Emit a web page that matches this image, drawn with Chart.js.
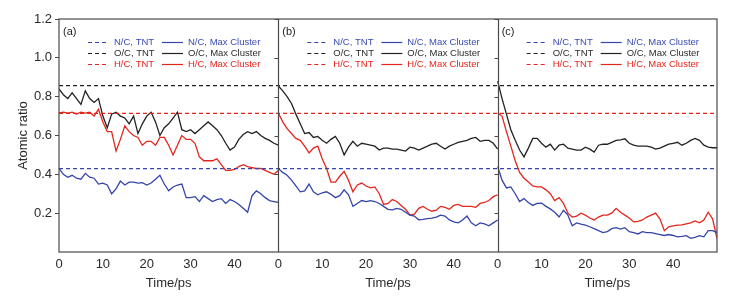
<!DOCTYPE html>
<html>
<head>
<meta charset="utf-8">
<script src="https://cdn.jsdelivr.net/npm/chart.js@4.4.1/dist/chart.umd.min.js"></script>
<style>
	html, body { margin: 0; padding: 0; background: #ffffff; }
	#wrap { position: relative; width: 730px; height: 298px; }
</style>
</head>
<body>
<div id="wrap"><canvas id="ratioChart" width="730" height="298"></canvas></div>
<script>
const timePs = [0, 1, 2, 3, 4, 5, 6, 7, 8, 9, 10, 11, 12, 13, 14, 15, 16, 17, 18, 19, 20, 21, 22, 23, 24, 25, 26, 27, 28, 29, 30, 31, 32, 33, 34, 35, 36, 37, 38, 39, 40, 41, 42, 43, 44, 45, 46, 47, 48, 49, 50];
const panelLabels = ['(a)', '(b)', '(c)'];
const ratioNames = ['N/C', 'O/C', 'H/C'];
const xTicks = [0, 10, 20, 30, 40];
const yTicks = [0.2, 0.4, 0.6, 0.8, 1.0, 1.2];

// TNT reference ratios (dashed lines)
const tntRatios = [0.429, 0.857, 0.714];

// panel (a)
const ncClusterA = [0.43, 0.40, 0.385, 0.395, 0.38, 0.375, 0.405, 0.385, 0.38, 0.35, 0.355, 0.345, 0.30, 0.325, 0.365, 0.345, 0.36, 0.36, 0.355, 0.357, 0.345, 0.355, 0.375, 0.395, 0.35, 0.315, 0.335, 0.345, 0.35, 0.28, 0.28, 0.285, 0.26, 0.29, 0.275, 0.26, 0.27, 0.275, 0.25, 0.27, 0.26, 0.245, 0.225, 0.205, 0.29, 0.315, 0.30, 0.28, 0.265, 0.26, 0.255];
const ocClusterA = [0.84, 0.81, 0.79, 0.82, 0.79, 0.76, 0.83, 0.79, 0.77, 0.79, 0.70, 0.64, 0.71, 0.72, 0.70, 0.69, 0.66, 0.70, 0.61, 0.66, 0.70, 0.72, 0.67, 0.60, 0.64, 0.66, 0.69, 0.72, 0.63, 0.62, 0.63, 0.61, 0.63, 0.65, 0.67, 0.65, 0.63, 0.60, 0.56, 0.525, 0.54, 0.58, 0.605, 0.62, 0.61, 0.62, 0.60, 0.585, 0.575, 0.56, 0.55];
const hcClusterA = [0.716, 0.72, 0.715, 0.72, 0.71, 0.72, 0.715, 0.72, 0.70, 0.735, 0.67, 0.62, 0.62, 0.52, 0.58, 0.65, 0.62, 0.60, 0.59, 0.55, 0.57, 0.57, 0.55, 0.59, 0.59, 0.55, 0.50, 0.55, 0.60, 0.58, 0.58, 0.56, 0.49, 0.47, 0.47, 0.47, 0.48, 0.45, 0.42, 0.42, 0.425, 0.44, 0.45, 0.44, 0.435, 0.43, 0.43, 0.42, 0.41, 0.40, 0.42];

// panel (b)
const ncClusterB = [0.43, 0.41, 0.395, 0.37, 0.34, 0.31, 0.315, 0.35, 0.31, 0.295, 0.305, 0.31, 0.297, 0.28, 0.29, 0.32, 0.295, 0.235, 0.25, 0.265, 0.26, 0.265, 0.26, 0.25, 0.235, 0.22, 0.217, 0.225, 0.22, 0.205, 0.19, 0.185, 0.166, 0.168, 0.172, 0.175, 0.18, 0.19, 0.185, 0.165, 0.155, 0.15, 0.165, 0.185, 0.15, 0.135, 0.15, 0.145, 0.135, 0.15, 0.165];
const ocClusterB = [0.855, 0.83, 0.80, 0.765, 0.71, 0.66, 0.61, 0.615, 0.59, 0.595, 0.575, 0.56, 0.58, 0.595, 0.56, 0.50, 0.54, 0.57, 0.545, 0.56, 0.555, 0.55, 0.545, 0.525, 0.535, 0.535, 0.53, 0.53, 0.525, 0.52, 0.54, 0.535, 0.525, 0.535, 0.545, 0.555, 0.56, 0.545, 0.53, 0.545, 0.555, 0.565, 0.57, 0.575, 0.585, 0.59, 0.57, 0.575, 0.575, 0.56, 0.53];
const hcClusterB = [0.716, 0.67, 0.635, 0.61, 0.585, 0.575, 0.545, 0.51, 0.535, 0.545, 0.48, 0.43, 0.36, 0.36, 0.39, 0.415, 0.37, 0.31, 0.345, 0.355, 0.34, 0.33, 0.335, 0.30, 0.245, 0.25, 0.27, 0.26, 0.24, 0.22, 0.19, 0.195, 0.225, 0.235, 0.22, 0.21, 0.215, 0.235, 0.23, 0.22, 0.24, 0.245, 0.235, 0.235, 0.235, 0.23, 0.25, 0.255, 0.265, 0.285, 0.295];

// panel (c)
const ncClusterC = [0.44, 0.37, 0.33, 0.335, 0.30, 0.26, 0.275, 0.255, 0.24, 0.25, 0.252, 0.235, 0.222, 0.205, 0.18, 0.215, 0.19, 0.135, 0.15, 0.143, 0.138, 0.13, 0.12, 0.11, 0.10, 0.105, 0.12, 0.125, 0.118, 0.125, 0.105, 0.10, 0.093, 0.105, 0.10, 0.10, 0.095, 0.09, 0.085, 0.09, 0.085, 0.078, 0.08, 0.084, 0.07, 0.075, 0.084, 0.078, 0.11, 0.11, 0.10];
const ocClusterC = [0.88, 0.79, 0.71, 0.63, 0.575, 0.525, 0.49, 0.535, 0.585, 0.585, 0.56, 0.54, 0.555, 0.525, 0.55, 0.555, 0.535, 0.53, 0.525, 0.525, 0.54, 0.53, 0.515, 0.55, 0.555, 0.555, 0.565, 0.575, 0.578, 0.583, 0.56, 0.55, 0.545, 0.545, 0.545, 0.54, 0.53, 0.535, 0.545, 0.555, 0.56, 0.565, 0.55, 0.56, 0.575, 0.585, 0.575, 0.55, 0.54, 0.537, 0.537];
const hcClusterC = [0.716, 0.70, 0.62, 0.545, 0.47, 0.41, 0.38, 0.36, 0.34, 0.335, 0.335, 0.32, 0.30, 0.265, 0.28, 0.25, 0.20, 0.18, 0.185, 0.20, 0.19, 0.175, 0.165, 0.18, 0.19, 0.19, 0.20, 0.225, 0.205, 0.19, 0.175, 0.155, 0.158, 0.165, 0.18, 0.19, 0.20, 0.17, 0.11, 0.13, 0.135, 0.138, 0.14, 0.145, 0.15, 0.16, 0.15, 0.165, 0.205, 0.17, 0.07];

(() => {
	'use strict'

	const ctx = document.getElementById('ratioChart');
	const panelSpan = 50;
	const panelCount = panelLabels.length;
	const colors = ['#3545a8', '#222222', '#e3261d'];
	const textColors = ['#3a4bb0', '#2a2a2a', '#e3261d'];
	const frameColor = '#4a4a4a';
	const tickFont = '13px "Liberation Sans", Arial, sans-serif';
	const legendFont = '9.5px "Liberation Sans", Arial, sans-serif';

	const clusterSeries = [
		[ncClusterA, ocClusterA, hcClusterA],
		[ncClusterB, ocClusterB, hcClusterB],
		[ncClusterC, ocClusterC, hcClusterC]
	];

	function toPoints(values, offset) {
		return timePs.map((t, i) => ({ x: t + offset, y: values[i] }));
	}

	const datasets = [];

	tntRatios.forEach((ratio, k) => {
		datasets.push({
			label: `${ratioNames[k]}, TNT`,
			data: [{ x: 0, y: ratio }, { x: panelSpan * panelCount, y: ratio }],
			borderColor: colors[k],
			borderDash: [4, 3],
			borderWidth: 1.2,
			pointRadius: 0
		});
	});

	clusterSeries.forEach((panel, p) => {
		panel.forEach((values, k) => {
			datasets.push({
				label: `${ratioNames[k]}, Max Cluster`,
				data: toPoints(values, p * panelSpan),
				borderColor: colors[k],
				borderWidth: 1.3,
				pointRadius: 0,
				tension: 0
			});
		});
	});

	const panelDecor = {
		id: 'panelDecor',
		afterDraw(chart) {
			const c = chart.ctx;
			const area = chart.chartArea;
			const xScale = chart.scales.x;
			const yScale = chart.scales.y;

			c.save();
			// frame + panel separators
			c.strokeStyle = frameColor;
			c.lineWidth = 1.2;
			c.strokeRect(area.left, area.top, area.right - area.left, area.bottom - area.top);
			for (let p = 1; p < panelCount; p++) {
				const px = Math.round(xScale.getPixelForValue(p * panelSpan)) + 0.5;
				c.beginPath();
				c.moveTo(px, area.top);
				c.lineTo(px, area.bottom);
				c.stroke();
				// outward y ticks on inner panel borders
				c.lineWidth = 1;
				yTicks.forEach((v) => {
					const py = Math.round(yScale.getPixelForValue(v)) + 0.5;
					c.beginPath();
					c.moveTo(px - 4, py);
					c.lineTo(px, py);
					c.stroke();
				});
				c.lineWidth = 1.2;
			}

			// panel labels, legends, x titles
			for (let p = 0; p < panelCount; p++) {
				const left = xScale.getPixelForValue(p * panelSpan);
				const center = xScale.getPixelForValue(p * panelSpan + panelSpan / 2);

				c.fillStyle = '#222';
				c.font = '11px "Liberation Sans", Arial, sans-serif';
				c.textAlign = 'left';
				c.textBaseline = 'middle';
				c.fillText(panelLabels[p], left + 4, area.top + 13);

				c.font = legendFont;
				ratioNames.forEach((name, k) => {
					const rowY = Math.round(area.top + 23 + k * 11) + 0.5;
					c.strokeStyle = colors[k];
					c.lineWidth = 1.2;
					c.setLineDash([4, 3]);
					c.beginPath();
					c.moveTo(left + 29, rowY);
					c.lineTo(left + 50, rowY);
					c.stroke();
					c.setLineDash([]);
					c.beginPath();
					c.moveTo(left + 103, rowY);
					c.lineTo(left + 124, rowY);
					c.stroke();
					c.fillStyle = textColors[k];
					c.fillText(`${name}, TNT`, left + 55, rowY);
					c.fillText(`${name}, Max Cluster`, left + 129, rowY);
				});

				c.fillStyle = '#2a2a2a';
				c.font = tickFont;
				c.textAlign = 'center';
				c.textBaseline = 'middle';
				c.fillText('Time/ps', center, 283);
			}
			c.restore();
		}
	};

	new Chart(ctx, {
		type: 'line',
		data: { datasets },
		options: {
			responsive: false,
			animation: false,
			layout: {
				padding: { left: 0, right: 13, top: 19, bottom: 0 }
			},
			plugins: {
				legend: { display: false },
				tooltip: { enabled: false }
			},
			scales: {
				x: {
					type: 'linear',
					min: 0,
					max: panelSpan * panelCount,
					afterFit: (scale) => { scale.height = 46; },
					afterBuildTicks: (scale) => {
						const ticks = [];
						for (let p = 0; p < panelCount; p++) {
							xTicks.forEach((t) => ticks.push({ value: p * panelSpan + t }));
						}
						scale.ticks = ticks;
					},
					grid: { display: false, drawTicks: false },
					border: { display: false },
					ticks: {
						padding: 5,
						color: '#2a2a2a',
						font: { family: '"Liberation Sans", Arial, sans-serif', size: 13 },
						maxRotation: 0,
						autoSkip: false,
						callback: function(value) {
							return String(value % panelSpan);
						}
					}
				},
				y: {
					min: 0,
					max: 1.2,
					afterFit: (scale) => { scale.width = 59; },
					afterBuildTicks: (scale) => {
						scale.ticks = yTicks.map((v) => ({ value: v }));
					},
					grid: {
						drawOnChartArea: false,
						drawTicks: true,
						tickLength: 4,
						color: frameColor
					},
					border: { display: false },
					ticks: {
						padding: 3,
						color: '#2a2a2a',
						font: { family: '"Liberation Sans", Arial, sans-serif', size: 13 },
						callback: function(value) {
							return value.toFixed(1);
						}
					},
					title: {
						display: true,
						text: 'Atomic ratio',
						color: '#2a2a2a',
						font: { family: '"Liberation Sans", Arial, sans-serif', size: 13 },
						padding: { top: 16, bottom: 0 }
					}
				}
			}
		},
		plugins: [panelDecor]
	});
})()
</script>
</body>
</html>
